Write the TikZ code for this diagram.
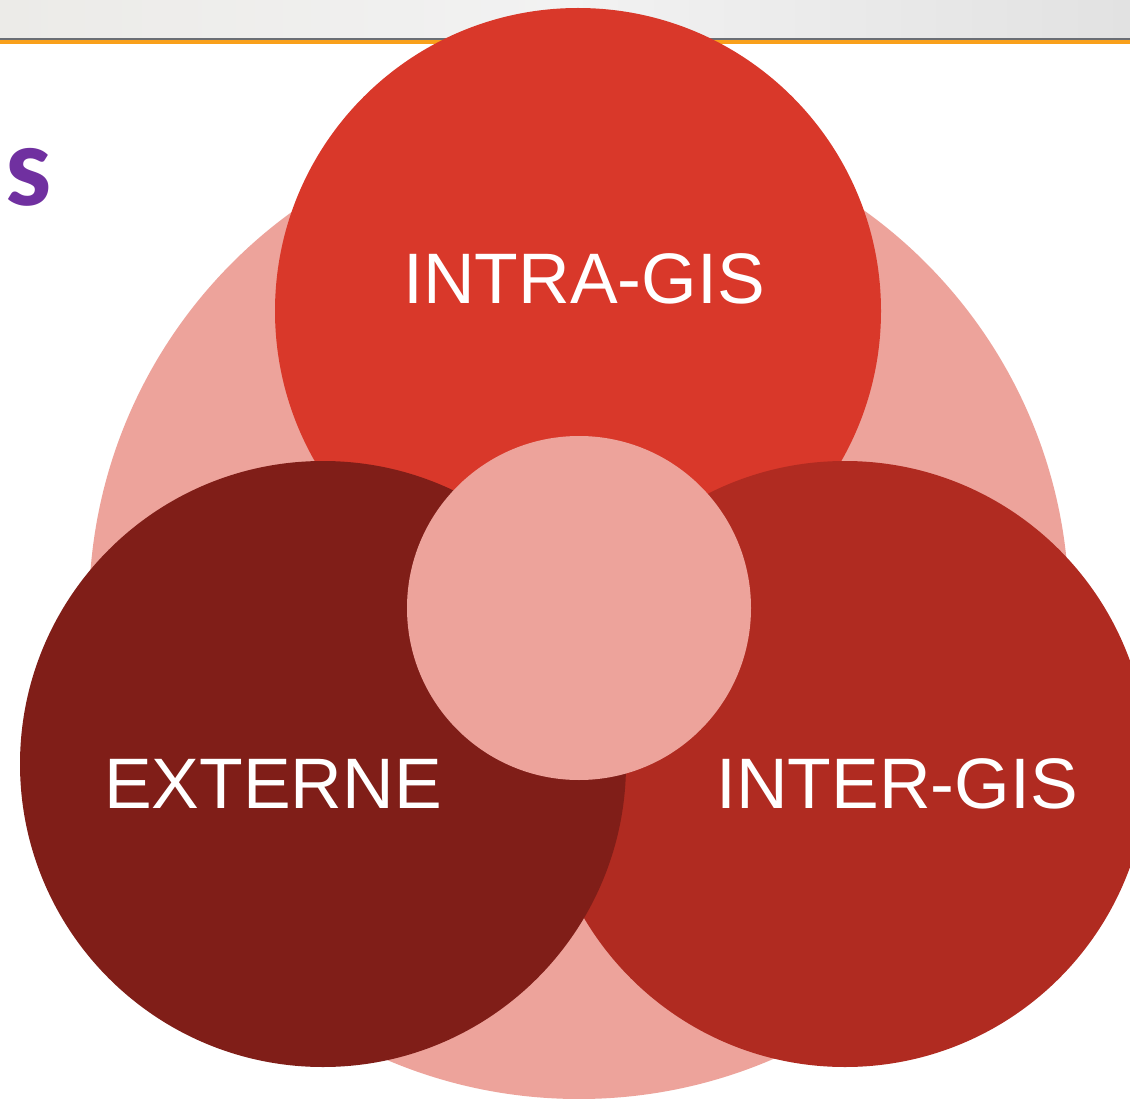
\documentclass[tikz,border=0pt]{standalone}
\usepackage{fontspec}
\setmainfont{Liberation Sans}
\newfontfamily\titlefont{Carlito}
\definecolor{bigpink}{HTML}{EDA39B}
\definecolor{topred}{HTML}{D9382A}
\definecolor{interred}{HTML}{B02B21}
\definecolor{extred}{HTML}{801E18}
\definecolor{barA}{HTML}{ECEBE8}
\definecolor{barB}{HTML}{F2F2F2}
\definecolor{barC}{HTML}{E2E2E2}
\definecolor{barline}{HTML}{6A6E75}
\definecolor{barorange}{HTML}{F9A01B}
\definecolor{titlepurple}{HTML}{7030A0}
\tikzset{
  disc/.style={circle, inner sep=0pt, outer sep=0pt, draw=none},
  lbl/.style={text=white, inner sep=0pt, font=\fontsize{71.5}{80}\selectfont}
}
\begin{document}
\begin{tikzpicture}[x=1pt,y=-1pt]
\useasboundingbox (0,0) rectangle (1130,1099);
\clip (0,0) rectangle (1130,1099);
\fill[white] (0,0) rectangle (1130,1099);
% top bar
\shade[left color=barA, right color=barC, middle color=barB] (0,0) rectangle (1130,39);
\fill[barline] (0,38.5) rectangle (1130,40.5);
\fill[barorange] (0,40.5) rectangle (1130,44.5);
% title fragment
\node[anchor=base west, inner sep=0pt, text=titlepurple, font=\titlefont\bfseries\fontsize{116}{120}\selectfont] (title) at (5,206) {s};
% circles
\node[disc, fill=bigpink, minimum size=980pt] (big) at (579,609) {};
\node[disc, fill=topred, minimum size=606pt] (intra) at (578,311) {};
\node[disc, fill=interred, minimum size=606pt] (inter) at (845,764) {};
\node[disc, fill=extred, minimum size=606pt] (ext) at (323,764) {};
\node[disc, fill=bigpink, minimum size=344pt] (core) at (579,608) {};
% labels
\node[lbl] (tintra) at (584,279) {INTRA-GIS};
\node[lbl] (text) at (273,784) {EXTERNE};
\node[lbl] (tinter) at (897,784) {INTER-GIS};
\end{tikzpicture}
\end{document}
